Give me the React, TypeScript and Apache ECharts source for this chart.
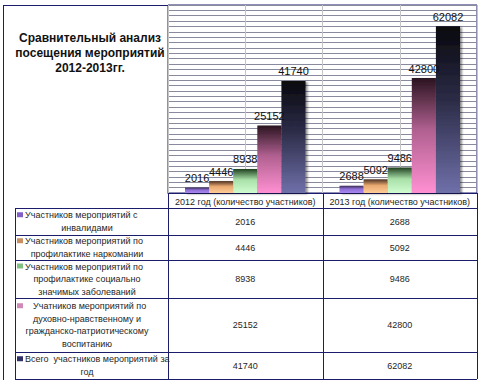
import React, { useEffect, useRef } from "react";
import * as echarts from "echarts";

const categories = ["2012 год (количество участников)", "2013 год (количество участников)"];

const seriesNames = [
  "Участников мероприятий с инвалидами",
  "Участников мероприятий по профилактике наркомании",
  "Участников мероприятий по профилактике социально значимых заболеваний",
  "Учатников мероприятий по духовно-нравственному и гражданско-патриотическому воспитанию",
  "Всего участников мероприятий за год",
];

const withDisabled = [2016, 2688];
const drugPrevention = [4446, 5092];
const diseasePrevention = [8938, 9486];
const spiritualEducation = [25152, 42800];
const totalParticipants = [41740, 62082];

const legendLines = [
  ["Участников мероприятий с", "инвалидами"],
  ["Участников мероприятий по", "профилактике наркомании"],
  ["Участников мероприятий по", "профилактике социально", "значимых заболеваний"],
  ["Учатников мероприятий по", "духовно-нравственному и", "гражданско-патриотическому", "воспитанию"],
  ["Всего  участников мероприятий за", "год"],
];

const titleText = "Сравнительный анализ\nпосещения мероприятий\n2012-2013гг.";

// styling (not data)
const gradients = [
  ["#3a2a55", "#8f70d8", "#a888f0"],
  ["#4a3020", "#e8a870", "#ffcc98"],
  ["#204020", "#a8e0a8", "#d0fcd0"],
  ["#2a1420", "#b06090", "#ff90d2"],
  ["#08080e", "#2c2c48", "#7070aa"],
];
const keyColors = ["#8060c8", "#c89060", "#80c080", "#d088b8", "#303068"];

const FONT = '"Liberation Sans", Arial, sans-serif';
const NAVY = "#1c1c6c";

export default function App() {
  const ref = useRef<HTMLDivElement>(null);

  useEffect(() => {
    document.body.style.margin = "0";
    if (!ref.current) return;
    const chart = echarts.init(ref.current, undefined, { renderer: "svg" });

    const values = [withDisabled, drugPrevention, diseasePrevention, spiritualEducation, totalParticipants];

    const gridLeft = 168;
    const gridTop = 5;
    const gridW = 309;
    const gridH = 188;
    const right = gridLeft + gridW;
    const bottom = gridTop + gridH;
    const colW = gridW / categories.length;

    const rowEdges = [bottom, 208, 235, 260, 298, 352, 379];
    const legendLeft = 15;

    const graphics: any[] = [];
    const hline = (x1: number, x2: number, y: number) =>
      graphics.push({
        type: "line",
        silent: true,
        shape: { x1, y1: y + 0.5, x2, y2: y + 0.5 },
        style: { stroke: NAVY, lineWidth: 1 },
      });
    const vline = (x: number, y1: number, y2: number) =>
      graphics.push({
        type: "line",
        silent: true,
        shape: { x1: x + 0.5, y1, x2: x + 0.5, y2 },
        style: { stroke: NAVY, lineWidth: 1 },
      });

    // outer chart frame (left and top)
    vline(3, gridTop, 380);
    hline(3, gridLeft, gridTop);

    // table lines
    for (let i = 1; i < rowEdges.length; i++) hline(legendLeft, right, rowEdges[i]);
    vline(legendLeft, rowEdges[1], rowEdges[rowEdges.length - 1]);
    vline(gridLeft, bottom, rowEdges[rowEdges.length - 1]);
    for (let c = 1; c <= categories.length; c++) {
      vline(Math.round(gridLeft + colW * c), bottom, rowEdges[rowEdges.length - 1]);
    }

    const lineH = 12.5;
    legendLines.forEach((lines, r) => {
      const top = rowEdges[r + 1];
      const bot = rowEdges[r + 2];
      const mid = (top + bot) / 2;
      const startY = mid - ((lines.length - 1) * lineH) / 2;
      graphics.push({
        type: "rect",
        silent: true,
        shape: { x: 17, y: startY - 3, width: 6, height: 5 },
        style: { fill: keyColors[r] },
      });
      lines.forEach((ln, i) => {
        const first = i === 0;
        graphics.push({
          type: "text",
          silent: true,
          style: {
            text: ln,
            x: first ? (r === 3 ? 33 : 25) : 87,
            y: startY + i * lineH,
            align: first ? "left" : "center",
            verticalAlign: "middle",
            fontSize: 9,
            fontFamily: FONT,
            fill: "#262626",
          },
        });
      });
      values[r].forEach((v, c) => {
        graphics.push({
          type: "text",
          silent: true,
          style: {
            text: String(v),
            x: gridLeft + colW * (c + 0.5),
            y: mid,
            align: "center",
            verticalAlign: "middle",
            fontSize: 9,
            fontFamily: FONT,
            fill: "#262626",
          },
        });
      });
    });

    const series = values.map((data, i) => ({
      name: seriesNames[i],
      type: "bar",
      xAxisIndex: 0,
      yAxisIndex: 0,
      data,
      barGap: "0%",
      barCategoryGap: "22%",
      itemStyle: {
        color: {
          type: "linear",
          x: 0,
          y: 0,
          x2: 0,
          y2: 1,
          colorStops: [
            { offset: 0, color: gradients[i][0] },
            { offset: 0.45, color: gradients[i][1] },
            { offset: 1, color: gradients[i][2] },
          ],
        },
        shadowColor: "rgba(0,0,0,0.45)",
        shadowBlur: 2,
        shadowOffsetX: 2,
        shadowOffsetY: 1,
      },
      label: {
        show: true,
        position: "top",
        distance: 4,
        color: "#111111",
        fontSize: 11,
        fontFamily: FONT,
      },
    }));

    chart.setOption({
      animation: false,
      backgroundColor: "#ffffff",
      title: {
        text: titleText,
        left: 85,
        top: 25,
        textAlign: "center",
        textStyle: {
          fontSize: 12,
          fontWeight: "bold",
          fontFamily: FONT,
          color: "#111111",
          lineHeight: 15,
        },
      },
      grid: {
        left: gridLeft,
        top: gridTop,
        width: gridW,
        height: gridH,
        show: true,
        borderColor: NAVY,
        borderWidth: 1,
        containLabel: false,
      },
      xAxis: [
        {
          type: "category",
          data: categories,
          axisLine: { show: true, lineStyle: { color: NAVY } },
          axisTick: { show: false },
          axisLabel: { interval: 0, fontSize: 9, fontFamily: FONT, color: "#262626", margin: 4 },
          splitLine: { show: false },
        },
        {
          type: "value",
          position: "top",
          min: 0,
          max: categories.length * 2,
          interval: 1,
          axisLine: { show: false },
          axisTick: { show: false },
          axisLabel: { show: false },
          splitLine: { show: true, lineStyle: { color: "#c4c4c4" } },
        },
      ],
      yAxis: {
        type: "value",
        min: 0,
        max: 70000,
        interval: 2000,
        axisLine: { show: false },
        axisTick: { show: false },
        axisLabel: { show: false },
        splitLine: { show: true, lineStyle: { color: "#8a8a9e" } },
      },
      series,
      graphic: graphics,
    });

    return () => chart.dispose();
  }, []);

  return (
    <div
      ref={ref}
      style={{ position: "absolute", left: 0, top: 0, width: 484, height: 380 }}
    />
  );
}
